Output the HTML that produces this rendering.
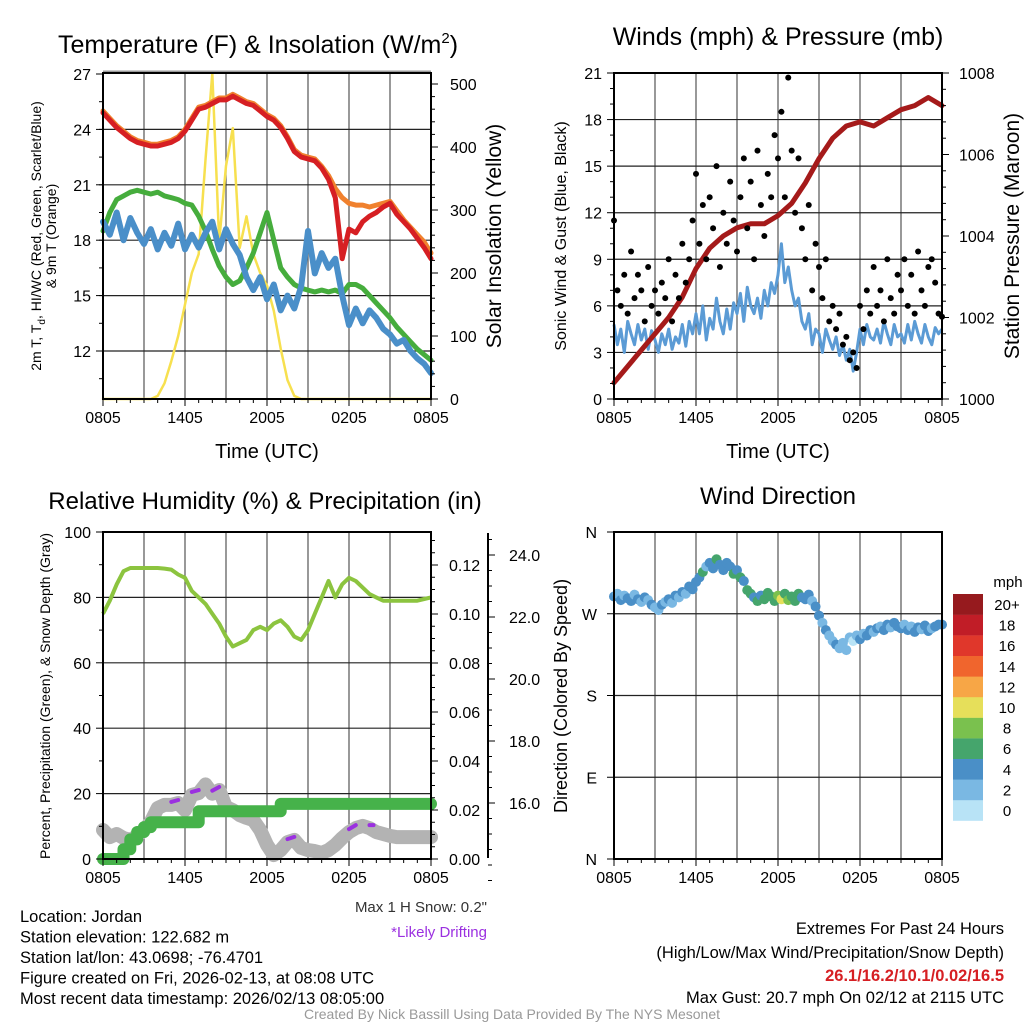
<!DOCTYPE html>
<html><head><meta charset="utf-8"><style>
html,body{margin:0;padding:0;background:#fff;}
svg{display:block;font-family:"Liberation Sans",Arial,sans-serif;}
</style></head><body>
<svg id="chart" width="1024" height="1024" viewBox="0 0 1024 1024" xmlns="http://www.w3.org/2000/svg">
<rect width="1024" height="1024" fill="#fff"/>
<g id="layer"></g>
</svg>
<script>
// ---------- DATA ----------
const timeTicks = ["0805","1405","2005","0205","0805"];
const tempRed = [24.9,24.5,24.1,23.8,23.5,23.3,23.2,23.1,23.1,23.2,23.3,23.5,23.9,24.5,25.1,25.2,25.4,25.6,25.6,25.8,25.6,25.4,25.3,25.0,24.7,24.5,24.1,23.5,22.8,22.5,22.4,22.3,21.9,21.3,20.3,17.0,18.6,18.4,19.0,19.3,19.5,19.8,20.0,19.4,19.0,18.6,18.1,17.6,17.0];
const tempOrange = [25.0,24.6,24.2,23.9,23.6,23.4,23.3,23.2,23.2,23.3,23.4,23.6,24.0,24.6,25.2,25.3,25.5,25.7,25.7,25.9,25.7,25.5,25.4,25.1,24.8,24.6,24.2,23.6,22.9,22.6,22.5,22.4,22.0,21.5,20.8,20.3,20.0,19.9,19.9,19.8,19.9,20.0,20.1,19.6,19.1,18.7,18.3,17.9,17.3];
const dewGreen = [18.5,19.5,20.2,20.4,20.6,20.7,20.6,20.5,20.6,20.4,20.3,20.2,20.0,19.9,19.3,18.5,17.5,16.6,16.0,15.6,15.8,16.5,17.3,18.4,19.5,18.0,16.5,16.0,15.6,15.4,15.3,15.2,15.3,15.2,15.3,15.1,15.6,15.6,15.4,15.0,14.6,14.2,13.8,13.3,12.9,12.5,12.1,11.8,11.5];
const hiwcBlue = [19.0,18.3,19.5,18.0,19.2,18.4,17.8,18.6,17.5,18.4,17.7,18.9,17.5,18.3,17.6,18.4,19.0,17.5,18.6,17.8,17.2,16.0,15.3,16.0,14.8,15.6,14.2,15.0,14.3,15.5,18.5,16.2,17.3,16.5,17.0,15.0,13.4,14.3,13.5,14.2,13.8,13.2,12.9,12.4,12.6,12.0,11.6,11.3,10.8];
const solar = [0,0,0,0,0,0,0,0,5,25,60,100,150,200,230,380,517,250,370,430,240,290,230,200,180,140,80,30,5,0,0,0,0,0,0,0,0,0,0,0,0,0,0,0,0,0,0,0,0];
const tempTicks = [12,15,18,21,24,27];
const solarTicks = [0,100,200,300,400,500];
const gust = [11.5,7,6,8,5.5,9.5,6.5,8,7,5,8.5,6, 7,5.5,7.5,6.5,9,5,8,6.5,10,7.5,9,11.5, 14.5,10,12.5,9,13,11,15,8.5,12,10,14,11.5, 9.5,13,15.5,11,14,9,16,12.5,10.5,14.5,13,17, 15.5,18.5,13,20.7,16,12,15.5,11,9,12.5,7,10, 8.5,6.5,9,5,6,4.5,5.5,3.5,4,2.5,3,2, 6,4.5,7,5.5,8.5,6,7,5,9,6.5,5.5,8, 7,9,6,8,5.5,9.5,7,6,8.5,9,7.5,5.5,5.3];
const wind = [4.8,3.5,4.5,3,5,4.2,3.5,4.8,3.8,4.5,3.2,4.4, 3.8,3,4.2,3.5,4.5,3.2,4,3.6,4.8,3.4,5,4.2, 5.5,4.2,6,3.8,5.2,4.5,6.5,5,4.2,5.8,4.5,6.2, 5.5,6.8,5,7.2,6,5.5,6.5,5.2,7,6,7.5,6.8, 8,10,7.5,8.5,7,6,6.5,5,4.5,5.5,3.5,4.5, 4.2,3,4.5,3.8,3.2,4,2.8,3.5,2.5,3.2,1.8,3, 4.5,3.5,4.8,4,3.8,4.5,3.6,5,4.2,3.5,4.8,4, 4.2,3.6,4.8,3.8,5,4.2,3.6,4.8,4,3.5,4.6,4.2,4.5];
const pressure = [1000.4,1000.8,1001.2,1001.6,1002.0,1002.5,1003.2,1003.7,1004.0,1004.2,1004.3,1004.3,1004.5,1004.8,1005.3,1005.9,1006.4,1006.7,1006.8,1006.7,1006.9,1007.1,1007.2,1007.4,1007.2];
const windTicks = [0,3,6,9,12,15,18,21];
const presTicks = [1000,1002,1004,1006,1008];
const rh = [75,79,84,88,89,89,89,89,89,88.8,88.5,87,86,82,80,78,75,72,68,65,66,67,70,71,70,72,73,71,68,67,70,75,80,85,80,84,86,85,83,81,80,79,79,79,79,79,79,79.5,80];
const precip = [0,0,0,0.004,0.008,0.011,0.013,0.015,0.015,0.015,0.015,0.015,0.015,0.015,0.0195,0.0195,0.0195,0.0195,0.0195,0.0195,0.0195,0.0195,0.0195,0.0195,0.0195,0.0195,0.0225,0.0225,0.0225,0.0225,0.0225,0.0225,0.0225,0.0225,0.0225,0.0225,0.0225,0.0225,0.0225,0.0225,0.0225,0.0225,0.0225,0.0225,0.0225,0.0225,0.0225,0.0225,0.0225];
const snow = [15.13,14.9,15.0,14.87,14.81,14.94,15.13,15.39,15.84,15.94,15.94,16.0,15.77,16.26,16.32,16.6,16.3,16.42,15.87,15.77,15.61,15.52,15.45,15.13,14.65,14.32,14.48,14.74,14.81,14.55,14.48,14.45,14.39,14.48,14.65,14.87,15.06,15.19,15.26,15.19,15.06,15.0,14.94,14.9,14.9,14.9,14.9,14.9,14.9];
const driftIdx = [[10,11],[13,14],[16,17],[27,28],[36,37],[39,39]];
const rhTicks = [0,20,40,60,80,100];
const precipTicks = ["0.00","0.02","0.04","0.06","0.08","0.10","0.12"];
const snowTicks = ["16.0","18.0","20.0","22.0","24.0"];
const direction = [289,292,285,290,287,284,291,286,283,288,285,280, 277,274,280,283,286,282,290,288,294,292,300,297, 305,310,316,322,326,320,330,324,318,326,322,314, 318,310,306,296,292,288,284,290,286,293,289,284, 290,286,292,285,289,284,292,288,286,291,284,278, 268,260,252,246,240,236,232,238,230,244,240,246, 242,248,246,252,250,254,256,252,258,255,260,256, 254,258,252,256,250,255,253,257,251,254,256,258,258];
const dirTicks = ["N","E","S","W","N"];
const speedBins = ["0","2","4","6","8","10","12","14","16","18","20+"];
const binColors = ["#b8e3f6","#7ab8e3","#4a8fc7","#45a56c","#7ac14e","#e6df5a","#f7a646","#f0652d","#e0372b","#c11d27","#961a1e"];

// ---------- HELPERS ----------
const NS="http://www.w3.org/2000/svg";
const layer=document.getElementById('layer');
const TK=16;
function mk(tag,attrs,parent){const e=document.createElementNS(NS,tag);for(const k in attrs)e.setAttribute(k,attrs[k]);(parent||layer).appendChild(e);return e;}
function txt(s,x,y,size,anchor,parent,extra){const e=mk('text',Object.assign({x:x,y:y,'font-size':size,'text-anchor':anchor||'middle',fill:'#000'},extra||{}),parent);e.textContent=s;return e;}
function lin(a,b,c,d){return (v)=>c+(v-a)*(d-c)/(b-a);}
function panel(name){
  const g=mk('g',{});
  
  
  return g;
}
function grid(g,xs,ys,x0,x1,y0,y1){
  xs.forEach(x=>mk('line',{x1:x,x2:x,y1:y0,y2:y1,stroke:'#555','stroke-width':1.2},g));
  ys.forEach(y=>mk('line',{x1:x0,x2:x1,y1:y,y2:y,stroke:'#222','stroke-width':1.2},g));
}
function frame(g,x0,x1,y0,y1){
  const r=mk('rect',{x:x0,y:y0,width:x1-x0,height:y1-y0,fill:'none',stroke:'#000','stroke-width':2},g);
  
  
}
function timeAxis(g,x0,x1,y1){
  const X=lin(0,24,x0,x1);
  for(let h=0;h<=24;h+=1){const big=h%6===0;mk('line',{x1:X(h),x2:X(h),y1:y1,y2:y1+(big?7:4),stroke:'#000','stroke-width':1},g);}
  timeTicks.forEach((t,i)=>{const e=txt(t,X(i*6),y1+24,TK,'middle',g);
    
    });
  return X;
}
function pathFrom(vals,X,Y,step){return vals.map((v,i)=>(i?'L':'M')+X(i*step).toFixed(1)+' '+Y(v).toFixed(1)).join(' ');}

// ---------- PANEL 1 ----------
(function(){
  const x0=103,x1=431,y0=73,y1=399;
  const g=panel('temperature-panel');
  const Y=lin(27,9.4,74,399), S=lin(0,500,399,84);
  const X=lin(0,24,x0,x1);
  grid(g,[3,6,9,12,15,18,21].map(X),[12,15,18,21,24].map(Y),x0,x1,y0,y1);
  mk('line',{x1:x0,x2:x1,y1:72,y2:72,stroke:'#999','stroke-width':3},g);
  const t=txt('Temperature (F) & Insolation (W/m',258,53,25,'middle',g);
  
  
  const sup=mk('tspan',{'font-size':15,dy:-10},t);sup.textContent='2';
  const cl=mk('tspan',{dy:10},t);cl.textContent=')';
  const series=[[solar,'#f7e04f',2.5,'solar-line',S],[dewGreen,'#46ad3d',5,'dewpoint-line',Y],[hiwcBlue,'#4a8fc9',6,'heat-index-line',Y],[tempOrange,'#f0812e',5,'temp-9m-line',Y],[tempRed,'#d61f23',5,'temp-2m-line',Y]];
  series.forEach(s=>{
    const p=mk('path',{d:pathFrom(s[0],X,s[4],0.5),fill:'none',stroke:s[1],'stroke-width':s[2],'stroke-linejoin':'round','stroke-linecap':'round'},g);
    
    
  });
  frame(g,x0,x1,y0,y1);
  timeAxis(g,x0,x1,y1);
  tempTicks.forEach(v=>{mk('line',{x1:x0-7,x2:x0,y1:Y(v),y2:Y(v),stroke:'#000'},g);
    const e=txt(String(v),x0-12,Y(v)+6,TK,'end',g);
    
    });
  for(let v=10.5;v<27;v+=1.5){mk('line',{x1:x0-4,x2:x0,y1:Y(v),y2:Y(v),stroke:'#000'},g);}
  solarTicks.forEach(v=>{mk('line',{x1:x1,x2:x1+7,y1:S(v),y2:S(v),stroke:'#000'},g);
    const e=txt(String(v),x1+19,S(v)+6,TK,'start',g);
    
    });
  for(let v=20;v<=500;v+=20){mk('line',{x1:x1,x2:x1+4,y1:S(v),y2:S(v),stroke:'#000'},g);}
  const a=txt('Time (UTC)',267,458,20,'middle',g);
  
  
  const l1=txt('2m T, T',0,0,14,'middle',g,{transform:'translate(41,236) rotate(-90)'});
  
  
  const sb=mk('tspan',{'font-size':10,dy:4},l1);sb.textContent='d';
  const r=mk('tspan',{dy:-4},l1);r.textContent=', HI/WC (Red, Green, Scarlet/Blue)';
  const l2=txt('& 9m T (Orange)',0,0,14,'middle',g,{transform:'translate(56,236) rotate(-90)'});
  
  
  const rt=txt('Solar Insolation (Yellow)',0,0,21,'middle',g,{transform:'translate(501,236) rotate(-90)'});
  
  
})();

// ---------- PANEL 2 ----------
(function(){
  const x0=614,x1=942,y0=73,y1=399;
  const g=panel('winds-panel');
  const Y=lin(0,21,399,73), P=lin(1000,1008,399,73);
  const X=lin(0,24,x0,x1);
  grid(g,[3,6,9,12,15,18,21].map(X),[3,6,9,12,15,18].map(Y),x0,x1,y0,y1);
  const t=txt('Winds (mph) & Pressure (mb)',778,45,25,'middle',g);
  
  
  const wl=mk('path',{d:pathFrom(wind,X,Y,0.25),fill:'none',stroke:'#5b9bd5','stroke-width':3,'stroke-linejoin':'round'},g);
  
  
  const pl=mk('path',{d:pathFrom(pressure,X,P,1),fill:'none',stroke:'#a51a1a','stroke-width':5,'stroke-linejoin':'round','stroke-linecap':'round'},g);
  
  
  gust.forEach((v,i)=>{
    const c=mk('circle',{cx:X(i*0.25),cy:Y(v),r:3,fill:'#000'},g);
    
    
  });
  frame(g,x0,x1,y0,y1);
  timeAxis(g,x0,x1,y1);
  windTicks.forEach(v=>{mk('line',{x1:x0-7,x2:x0,y1:Y(v),y2:Y(v),stroke:'#000'},g);
    const e=txt(String(v),x0-12,Y(v)+6,TK,'end',g);
    
    });
  for(let v=1;v<21;v++){if(v%3)mk('line',{x1:x0-4,x2:x0,y1:Y(v),y2:Y(v),stroke:'#000'},g);}
  presTicks.forEach(v=>{mk('line',{x1:x1,x2:x1+7,y1:P(v),y2:P(v),stroke:'#000'},g);
    const e=txt(String(v),x1+17,P(v)+6,TK,'start',g);
    
    });
  for(let v=1000.4;v<1008;v+=0.4){mk('line',{x1:x1,x2:x1+4,y1:P(v),y2:P(v),stroke:'#000'},g);}
  const a=txt('Time (UTC)',778,458,20,'middle',g);
  
  
  const lt=txt('Sonic Wind & Gust (Blue, Black)',0,0,16,'middle',g,{transform:'translate(566,236) rotate(-90)'});
  
  
  const rt=txt('Station Pressure (Maroon)',0,0,21,'middle',g,{transform:'translate(1019,236) rotate(-90)'});
  
  
})();

// ---------- PANEL 3 ----------
(function(){
  const x0=103,x1=431,y0=532,y1=859;
  const g=panel('humidity-panel');
  const Y=lin(0,100,859,532), PR=lin(0,0.12,859,565), SN=lin(16,24,803,555);
  const X=lin(0,24,x0,x1);
  grid(g,[3,6,9,12,15,18,21].map(X),[20,40,60,80].map(Y),x0,x1,y0,y1);
  const t=txt('Relative Humidity (%) & Precipitation (in)',265,509,24,'middle',g);
  
  
  const sp=mk('path',{d:pathFrom(snow,X,SN,0.5),fill:'none',stroke:'#b3b3b3','stroke-width':14,'stroke-linejoin':'round','stroke-linecap':'round'},g);
  
  
  driftIdx.forEach(d=>{
    const seg=snow.slice(d[0],d[1]+1);
    let dd=seg.map((v,k)=>(k?'L':'M')+X((d[0]+k)*0.5).toFixed(1)+' '+(SN(v)-3).toFixed(1)).join(' ');
    if(seg.length===1)dd+=' l4 0';
    const p=mk('path',{d:dd,fill:'none',stroke:'#9b30e0','stroke-width':4,'stroke-linecap':'round'},g);
    
    
  });
  let pd='';precip.forEach((v,i)=>{const x=X(i*0.5),y=PR(v);pd+=(i?('L'+x.toFixed(1)+' '+PR(precip[i-1]).toFixed(1)+' L'):'M')+x.toFixed(1)+' '+y.toFixed(1)+' ';});
  const pp=mk('path',{d:pd,fill:'none',stroke:'#46b24a','stroke-width':12,'stroke-linejoin':'round','stroke-linecap':'round'},g);
  
  
  const rl=mk('path',{d:pathFrom(rh,X,Y,0.5),fill:'none',stroke:'#8cc43f','stroke-width':4,'stroke-linejoin':'round'},g);
  
  
  frame(g,x0,x1,y0,y1);
  timeAxis(g,x0,x1,y1);
  rhTicks.forEach(v=>{mk('line',{x1:x0-7,x2:x0,y1:Y(v),y2:Y(v),stroke:'#000'},g);
    const e=txt(String(v),x0-12,Y(v)+6,TK,'end',g);
    
    });
  for(let v=10;v<100;v+=20)mk('line',{x1:x0-4,x2:x0,y1:Y(v),y2:Y(v),stroke:'#000'},g);
  precipTicks.forEach(s=>{const v=parseFloat(s);mk('line',{x1:x1,x2:x1+7,y1:PR(v),y2:PR(v),stroke:'#000'},g);
    const e=txt(s,x1+18,PR(v)+6,TK,'start',g);
    
    });
  for(let v=0.005;v<0.133;v+=0.005)mk('line',{x1:x1,x2:x1+4,y1:PR(v),y2:PR(v),stroke:'#000'},g);
  mk('line',{x1:488,x2:488,y1:533,y2:858,stroke:'#000','stroke-width':2},g);
  snowTicks.forEach(s=>{const v=parseFloat(s);mk('line',{x1:488,x2:495,y1:SN(v),y2:SN(v),stroke:'#000'},g);
    const e=txt(s,509,SN(v)+6,TK,'start',g);
    
    });
  for(let v=13.5;v<24.9;v+=0.5)mk('line',{x1:488,x2:492,y1:SN(v),y2:SN(v),stroke:'#000'},g);
  const lt=txt('Percent, Precipitation (Green), & Snow Depth (Gray)',0,0,14,'middle',g,{transform:'translate(50,696) rotate(-90)'});
  
  
  const m=txt('Max 1 H Snow: 0.2"',487,912,15,'end',g,{fill:'#333'});
  
  
  const dn=txt('*Likely Drifting',487,937,15,'end',g,{fill:'#9b30e0'});
  
  
})();

// ---------- PANEL 4 ----------
(function(){
  const x0=614,x1=942,y0=532,y1=859;
  const g=panel('wind-direction-panel');
  const Y=lin(0,360,859,532);
  const X=lin(0,24,x0,x1);
  grid(g,[3,6,9,12,15,18,21].map(X),[90,180,270].map(Y),x0,x1,y0,y1);
  const t=txt('Wind Direction',778,504,24,'middle',g);
  
  
  direction.forEach((d,i)=>{
    const b=Math.min(10,Math.floor(wind[i]/2));
    const c=mk('circle',{cx:X(i*0.25),cy:Y(d),r:5,fill:binColors[b]},g);
    
    
  });
  frame(g,x0,x1,y0,y1);
  timeAxis(g,x0,x1,y1);
  dirTicks.forEach((s,i)=>{const v=i*90;mk('line',{x1:x0-7,x2:x0,y1:Y(v),y2:Y(v),stroke:'#000'},g);
    const e=txt(s,x0-17,Y(v)+6,TK,'end',g);
    
    });
  const lt=txt('Direction (Colored By Speed)',0,0,18,'middle',g,{transform:'translate(567,696) rotate(-90)'});
  
  
  const cb=mk('g',{},g);
  
  
  const u=txt('mph',1008,587,15,'middle',cb);
  
  
  speedBins.forEach((s,i)=>{
    const top=594+(10-i)*20.6;
    const r=mk('rect',{x:953,y:top,width:30,height:20.8,fill:binColors[i]},cb);
    
    
    const e=txt(s,1007,top+16,15,'middle',cb);
    
    
  });
})();

// ---------- FOOTER ----------
(function(){
  const g=mk('g',{});
  
  
  const lines=["Location: Jordan","Station elevation: 122.682 m","Station lat/lon: 43.0698; -76.4701","Figure created on Fri, 2026-02-13, at 08:08 UTC","Most recent data timestamp: 2026/02/13 08:05:00"];
  lines.forEach((s,i)=>{const e=txt(s,20,922+i*20.5,16.5,'start',g);
    
    });
  const r1=txt('Extremes For Past 24 Hours',1004,934,16.5,'end',g);
  
  
  const r2=txt('(High/Low/Max Wind/Precipitation/Snow Depth)',1004,958,16.5,'end',g);
  
  
  const r3=txt('26.1/16.2/10.1/0.02/16.5',1004,981,16.5,'end',g,{fill:'#d61f23','font-weight':'bold'});
  
  
  const r4=txt('Max Gust: 20.7 mph On 02/12 at 2115 UTC',1004,1003,16.5,'end',g);
  
  
  const c=txt('Created By Nick Bassill Using Data Provided By The NYS Mesonet',512,1019,14,'middle',g,{fill:'#999'});
  
  
})();
</script>
</body></html>
